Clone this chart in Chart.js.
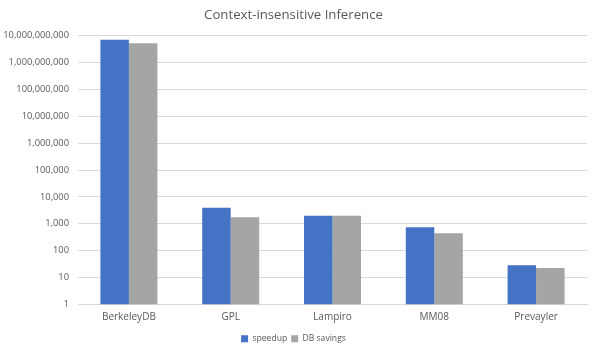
<!DOCTYPE html>
<html>
<head>
<meta charset="utf-8">
<script src="https://cdn.jsdelivr.net/npm/chart.js@4"></script>
<style>
html,body{margin:0;padding:0;background:#fff;}
#wrap{width:598px;height:353px;}
</style>
</head>
<body>
<div id="wrap"><canvas id="c" width="598" height="353"></canvas></div>
<script>
const categories = ["BerkeleyDB", "GPL", "Lampiro", "MM08", "Prevayler"];
const speedup = [7100000000, 4000, 2020, 750, 28.5];
const dbSavings = [5350000000, 1750, 2000, 450, 22.5];
const yTicks = [1, 10, 100, 1000, 10000, 100000, 1000000, 10000000, 100000000, 1000000000, 10000000000];

const FONT = "'Open Sans', 'Liberation Sans', sans-serif";
new Chart(document.getElementById('c'), {
  type: 'bar',
  data: {
    labels: categories,
    datasets: [
      {label: 'speedup', data: speedup, backgroundColor: '#4472C4', borderWidth: 0},
      {label: 'DB savings', data: dbSavings, backgroundColor: '#A5A5A5', borderWidth: 0}
    ]
  },
  options: {
    responsive: false,
    animation: false,
    devicePixelRatio: 1,
    layout: {padding: {left: 0, right: 11, top: 0, bottom: 0}},
    datasets: {bar: {categoryPercentage: 0.56, barPercentage: 1}},
    plugins: {
      title: {
        display: true,
        text: 'Context-insensitive Inference',
        color: '#595959',
        font: {family: FONT, size: 13.2, weight: 'normal'},
        padding: {top: 7, bottom: 13}
      },
      legend: {
        position: 'bottom',
        labels: {
          color: '#595959',
          font: {family: FONT, size: 8.6},
          boxWidth: 7, boxHeight: 7, padding: 4
        }
      },
      tooltip: {enabled: false}
    },
    scales: {
      x: {
        grid: {display: false, drawTicks: false},
        border: {display: true, color: '#D9D9D9'},
        ticks: {color: '#595959', font: {family: FONT, size: 10}, padding: 7}
      },
      y: {
        type: 'logarithmic',
        min: 1, max: 10000000000,
        afterBuildTicks: (s) => { s.ticks = yTicks.map(v => ({value: v, major: true})); },
        afterFit: (s) => { s.width = 78; },
        grid: {color: '#D9D9D9', drawTicks: false},
        border: {display: false},
        ticks: {
          color: '#595959', font: {family: FONT, size: 9.3}, padding: 9,
          callback: (v) => Number(v).toLocaleString('en-US')
        }
      }
    }
  }
});
</script>
</body>
</html>
